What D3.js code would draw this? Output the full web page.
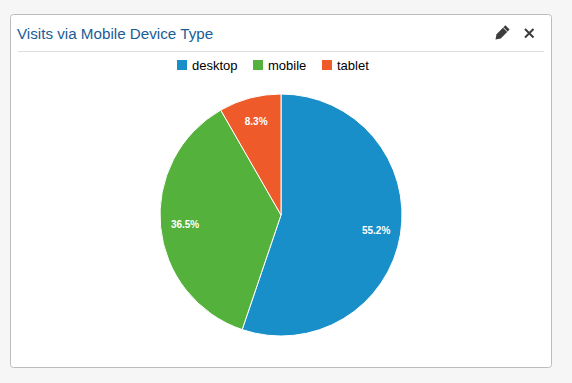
<!DOCTYPE html>
<html>
<head>
<meta charset="utf-8">
<script src="https://cdnjs.cloudflare.com/ajax/libs/d3/7.8.5/d3.min.js"></script>
<style>
  html, body { margin: 0; padding: 0; background: #f6f6f6; overflow: hidden; }
  text { font-family: "Liberation Sans", Arial, sans-serif; }
</style>
</head>
<body>
<script>
var categories = ["desktop", "mobile", "tablet"];
var visits = [55.2, 36.5, 8.3];
var colors = ["#188fc9", "#54b13b", "#ee5a29"];
var chartTitle = "Visits via Mobile Device Type";

var width = 572, height = 383;
var cx = 281, cy = 215, radius = 121;

var svg = d3.select("body").append("svg")
    .attr("width", width).attr("height", height)
    .style("display", "block");

// card
svg.append("rect")
    .attr("x", 10.5).attr("y", 14.5)
    .attr("width", 541).attr("height", 353)
    .attr("rx", 3)
    .attr("fill", "#fff").attr("stroke", "#bcbcbc");

svg.append("text")
    .attr("x", 17).attr("y", 39)
    .attr("font-size", 15.2)
    .attr("fill", "#1c5c96")
    .text(chartTitle);

svg.append("line")
    .attr("x1", 18).attr("x2", 544)
    .attr("y1", 51.5).attr("y2", 51.5)
    .attr("stroke", "#dedede");

// pencil icon
svg.append("g")
    .attr("transform", "translate(501.5,33.5) rotate(45)")
    .call(function(g) {
      g.append("path").attr("d", "M-3,-8.5 L3,-8.5 L3,4 L0,8.5 L-3,4 Z").attr("fill", "#3c3c3c");
      g.append("rect").attr("x", -3).attr("y", -5.8).attr("width", 6).attr("height", 0.7).attr("fill", "#fff");
    });

// close icon
svg.append("path")
    .attr("d", "M525,29 L533.5,37.5 M533.5,29 L525,37.5")
    .attr("stroke", "#3c3c3c").attr("stroke-width", 2).attr("fill", "none");

// legend
var legendX = d3.scaleOrdinal().domain(categories).range([177, 253, 322]);
var legend = svg.selectAll(".legend").data(categories).enter().append("g")
    .attr("class", "legend")
    .attr("transform", function(d) { return "translate(" + legendX(d) + ",60)"; });

legend.append("rect")
    .attr("width", 10).attr("height", 10)
    .attr("fill", function(d, i) { return colors[i]; });

legend.append("text")
    .attr("x", 15).attr("y", 10)
    .attr("font-size", 13)
    .attr("fill", "#000")
    .text(function(d) { return d; });

// pie
var pie = d3.pie().sort(null);
var arc = d3.arc().innerRadius(0).outerRadius(radius);
var labelArc = d3.arc().innerRadius(96.4).outerRadius(96.4);

var pieGroup = svg.append("g").attr("transform", "translate(" + cx + "," + cy + ")");
var slices = pie(visits);

pieGroup.selectAll("path").data(slices).enter().append("path")
    .attr("d", arc)
    .attr("fill", function(d, i) { return colors[i]; })
    .attr("stroke", "#fff")
    .attr("stroke-width", 1);

pieGroup.selectAll("text").data(slices).enter().append("text")
    .attr("transform", function(d) { return "translate(" + labelArc.centroid(d) + ")"; })
    .attr("text-anchor", "middle")
    .attr("dy", "0.35em")
    .attr("font-size", 10)
    .attr("font-weight", "bold")
    .attr("fill", "#fff")
    .text(function(d) { return d.value.toFixed(1) + "%"; });
</script>
</body>
</html>
